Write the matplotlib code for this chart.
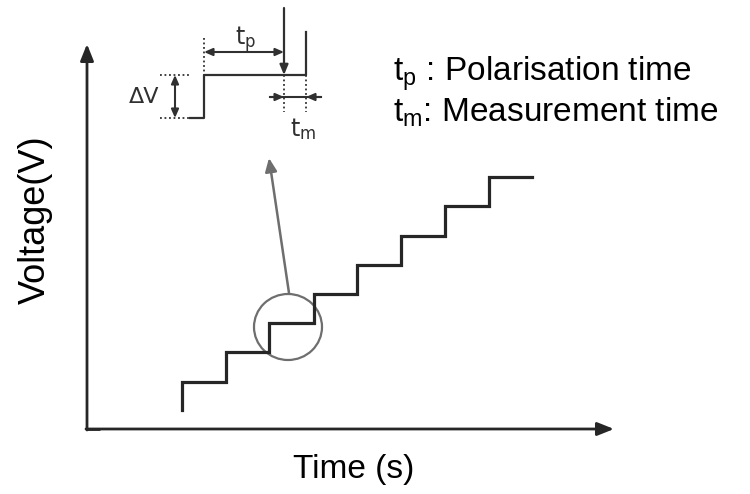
import numpy as np
import matplotlib.pyplot as plt
from matplotlib.patches import Ellipse

plt.rcParams['font.family'] = ['Liberation Sans', 'DejaVu Sans']
plt.rcParams['mathtext.fontset'] = 'custom'
plt.rcParams['mathtext.rm'] = 'Liberation Sans'
plt.rcParams['mathtext.it'] = 'Liberation Sans'

# staircase (pixel coords of the sketch)
step_x = [182, 226, 269, 314, 357, 401, 445, 489, 532]
step_y = [382, 352, 323, 294, 265, 236, 206, 177]
start_y = 410

# inset step
inset_low = 118
inset_high = 75
inset_x = [190, 204, 306]
meas_x = 284

labels = ["t$_\\mathregular{p}$ : Polarisation time", "t$_\\mathregular{m}$: Measurement time"]

fig = plt.figure(figsize=(7.5, 4.94), dpi=100)
ax = fig.add_axes([0, 0, 1, 1])
ax.set_xlim(0, 750)
ax.set_ylim(494, 0)
ax.axis('off')

dark = '#262626'
gray = '#6e6e6e'

# axes arrows
ax.annotate('', xy=(87, 44), xytext=(87, 430),
            arrowprops=dict(arrowstyle='-|>,head_length=1.0,head_width=0.4', lw=2.0, color=dark, shrinkA=0, shrinkB=0))
ax.plot([86, 100], [429, 429], color=dark, lw=2.0, solid_capstyle='butt')
ax.annotate('', xy=(614, 429), xytext=(86, 429),
            arrowprops=dict(arrowstyle='-|>,head_length=1.0,head_width=0.4', lw=2.0, color=dark, shrinkA=0, shrinkB=0))

# staircase
xs = [step_x[0]]
ys = [start_y]
for i, y in enumerate(step_y):
    xs += [step_x[i], step_x[i + 1]]
    ys += [y, y]
ax.plot(xs, ys, color=dark, lw=2.3, solid_joinstyle='miter')

# zoom circle + arrow
ax.add_patch(Ellipse((288, 327), 68, 66, fill=False, ec=gray, lw=1.6))
ax.annotate('', xy=(269, 158), xytext=(289, 293),
            arrowprops=dict(arrowstyle='-|>,head_length=0.8,head_width=0.35', lw=1.8, color=gray, shrinkA=0, shrinkB=0))

# inset step
ink = '#303030'
ax.plot([inset_x[0], inset_x[1], inset_x[1], inset_x[2], inset_x[2]],
        [inset_low, inset_low, inset_high, inset_high, 32], color=ink, lw=1.6)
# measurement trigger arrow
ax.annotate('', xy=(meas_x, inset_high), xytext=(meas_x, 8),
            arrowprops=dict(arrowstyle='-|>,head_length=0.6,head_width=0.25', lw=1.6, color=ink, shrinkA=0, shrinkB=0))

dot = dict(color=ink, lw=1.3, ls=(0, (1, 1.5)))
ax.plot([inset_x[1], inset_x[1]], [38, inset_high], **dot)
ax.plot([160, 190], [inset_high, inset_high], **dot)
ax.plot([160, 190], [inset_low, inset_low], **dot)
ax.plot([meas_x, meas_x], [inset_high, 112], **dot)
ax.plot([inset_x[2], inset_x[2]], [inset_high, 112], **dot)

dbl = dict(arrowstyle='<|-|>,head_length=0.5,head_width=0.22', lw=1.5, color=ink, shrinkA=0, shrinkB=0)
ax.annotate('', xy=(inset_x[1], 52), xytext=(meas_x, 52), arrowprops=dbl)
ax.annotate('', xy=(175, inset_high), xytext=(175, inset_low), arrowprops=dbl)
one = dict(arrowstyle='-|>,head_length=0.5,head_width=0.22', lw=1.5, color=ink, shrinkA=0, shrinkB=0)
ax.annotate('', xy=(meas_x, 97), xytext=(270, 97), arrowprops=one)
ax.annotate('', xy=(inset_x[2], 97), xytext=(321, 97), arrowprops=one)
ax.plot([270, 321], [97, 97], color=ink, lw=1.5)

ax.text(246, 40, "t$_\\mathregular{p}$", fontsize=17, color=ink, ha='center', va='center', family='DejaVu Sans')
ax.text(303, 129, "t$_\\mathregular{m}$", fontsize=17, color=ink, ha='center', va='center', family='DejaVu Sans')
ax.text(144, 97, "ΔV", fontsize=16, color=ink, ha='center', va='center', family='DejaVu Sans')

# legend text
ax.text(393, 81, labels[0], fontsize=24, color='black', ha='left', va='baseline')
ax.text(393, 122, labels[1], fontsize=24, color='black', ha='left', va='baseline')

# axis titles
ax.text(35, 220, "Voltage(V)", fontsize=26, rotation=90, ha='center', va='center')
ax.text(354, 478, "Time (s)", fontsize=24, ha='center', va='baseline')

fig.savefig('out.png', dpi=100)
